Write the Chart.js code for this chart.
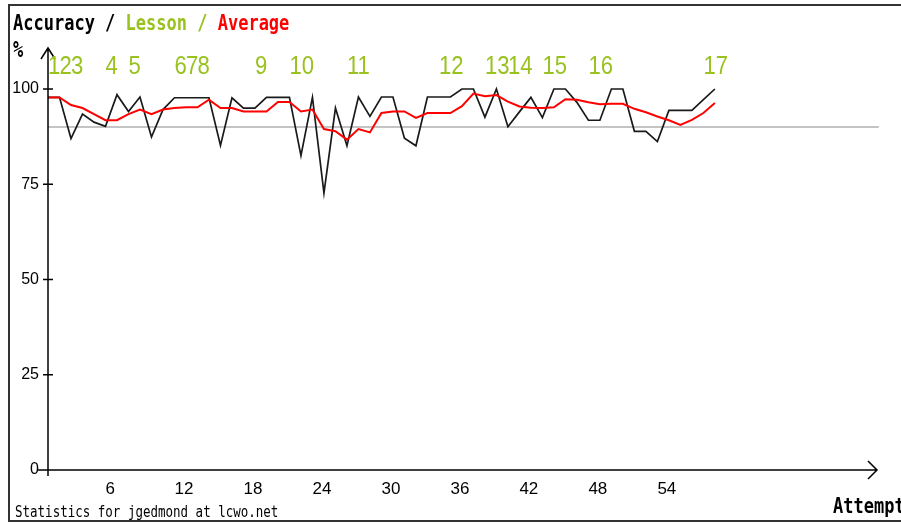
<!DOCTYPE html>
<html><head><meta charset="utf-8">
<script src="https://cdn.jsdelivr.net/npm/chart.js@4"></script>
<style>html,body{margin:0;padding:0;background:#fff}#wrap{width:901px;height:523px;position:relative}</style>
</head><body><div id="wrap"><canvas id="c" width="901" height="523"></canvas></div>
<script>
const attempts = [1,2,3,4,5,6,7,8,9,10,11,12,13,14,15,16,17,18,19,20,21,22,23,24,25,26,27,28,29,30,31,32,33,34,35,36,37,38,39,40,41,42,43,44,45,46,47,48,49,50,51,52,53,54,55,56,57,58,59];
const accuracy = [97.8,97.8,87.0,93.4,91.3,90.2,98.5,94.1,97.9,87.4,94.6,97.7,97.7,97.7,97.7,85.2,97.7,95.0,95.0,97.8,97.8,97.8,82.5,97.8,72.7,95.0,85.1,97.9,92.8,97.9,97.9,87.1,85.1,97.9,97.9,97.9,100,100,92.6,100,90.1,94.0,97.8,92.5,100,100,96.5,91.8,91.8,100,100,88.9,88.9,86.2,94.4,94.4,94.4,97.2,100];
const average = [97.8,97.8,95.8,95.0,93.4,91.8,91.8,93.4,94.6,93.4,94.6,95.0,95.2,95.2,97.2,95.0,95.0,94.1,94.1,94.1,96.6,96.6,94.1,94.6,89.5,88.9,86.7,89.5,88.6,93.7,94.1,94.1,92.4,93.7,93.7,93.7,95.5,98.8,98.1,98.4,96.7,95.4,95.1,95.0,95.2,97.3,97.2,96.5,96.0,96.1,96.1,94.8,93.9,92.8,91.8,90.6,91.9,93.7,96.3];
const targetLevel = 90;
const xTickValues = [6,12,18,24,30,36,42,48,54];
const yTickValues = [0,25,50,75,100];
const lessonStarts = [1,2,3,6,8,12,13,14,19,22,27,35,39,41,44,48,58];
const lessonNames = ['1','2','3','4','5','6','7','8','9','10','11','12','13','14','15','16','17'];
const titleParts = [['Accuracy / ','#000000'],['Lesson / ','#99c21f'],['Average','#ff0000']];
const footerText = 'Statistics for jgedmond at lcwo.net';
const xAxisTitle = 'Attempt';
const yAxisTitle = '%';

const X_MIN = 1, X_MAX = 73.1, X_TARGET_END = 73.26;
const SANS = "'Liberation Sans',Arial,sans-serif";
const MONO = "'DejaVu Sans Mono','Liberation Mono',monospace";
const GREEN = '#99c21f';

const decor = {
  id: 'decor',
  afterDraw(chart) {
    const ctx = chart.ctx;
    const xs = chart.scales.x, ys = chart.scales.y;
    const ca = chart.chartArea;
    ctx.save();
    // frame
    ctx.strokeStyle = '#333'; ctx.lineWidth = 2;
    ctx.beginPath();
    ctx.moveTo(901, 5); ctx.lineTo(9, 5); ctx.lineTo(9, 521); ctx.lineTo(901, 521);
    ctx.stroke();
    // axes
    ctx.strokeStyle = '#000'; ctx.lineWidth = 1.5;
    const x0 = ca.left, y0 = ys.getPixelForValue(0);
    ctx.beginPath();
    ctx.moveTo(x0, 48); ctx.lineTo(x0, y0 + 6);
    ctx.moveTo(x0 - 7, 59); ctx.lineTo(x0, 48); ctx.lineTo(x0 + 7, 59);
    ctx.moveTo(38, y0); ctx.lineTo(877, y0);
    ctx.moveTo(868, y0 - 9); ctx.lineTo(877, y0); ctx.lineTo(868, y0 + 9);
    yTickValues.forEach(v => { const py = ys.getPixelForValue(v); ctx.moveTo(x0 - 5, py); ctx.lineTo(x0 + 5, py); });
    ctx.stroke();
    // lesson labels
    ctx.fillStyle = GREEN; ctx.font = '26px ' + SANS; ctx.textAlign = 'left'; ctx.textBaseline = 'alphabetic';
    lessonStarts.forEach((a, i) => {
      ctx.save(); ctx.translate(xs.getPixelForValue(a), 74); ctx.scale(0.85, 1);
      ctx.fillText(lessonNames[i], 0, 0); ctx.restore();
    });
    // title
    ctx.font = 'bold 17px ' + MONO;
    ctx.save(); ctx.translate(13, 30); ctx.scale(1, 1.2);
    let tx = 0;
    titleParts.forEach(([t, c]) => { ctx.fillStyle = c; ctx.fillText(t, tx, 0); tx += ctx.measureText(t).width; });
    ctx.restore();
    ctx.fillStyle = '#000';
    ctx.save(); ctx.translate(13, 57); ctx.scale(1, 1.3); ctx.fillText(yAxisTitle, 0, 0); ctx.restore();
    ctx.save(); ctx.translate(833, 513); ctx.scale(1, 1.2); ctx.fillText(xAxisTitle, 0, 0); ctx.restore();
    ctx.font = '12.5px ' + MONO;
    ctx.save(); ctx.translate(15, 517); ctx.scale(1, 1.2); ctx.fillText(footerText, 0, 0); ctx.restore();
    ctx.restore();
  }
};

new Chart(document.getElementById('c'), {
  type: 'line',
  data: {
    datasets: [
      { label: 'Average', data: attempts.map((a, i) => ({x: a, y: average[i]})), borderColor: '#ff0000', borderWidth: 2, order: 1 },
      { label: 'Accuracy', data: attempts.map((a, i) => ({x: a, y: accuracy[i]})), borderColor: '#1a1a1a', borderWidth: 1.7, order: 2 },
      { label: 'Target', data: [{x: X_MIN, y: targetLevel}, {x: X_TARGET_END, y: targetLevel}], borderColor: '#c4c4c4', borderWidth: 2, order: 3 }
    ]
  },
  options: {
    responsive: false, animation: false, devicePixelRatio: 1,
    layout: { padding: { top: 89, right: 24, left: 0, bottom: 0 } },
    elements: { point: { radius: 0 }, line: { tension: 0 } },
    datasets: { line: { clip: false } },
    plugins: { legend: { display: false }, title: { display: false }, tooltip: { enabled: false } },
    scales: {
      x: {
        type: 'linear', min: X_MIN, max: X_MAX,
        afterBuildTicks: s => { s.ticks = xTickValues.map(v => ({value: v})); },
        afterFit: s => { s.height = 53; },
        grid: { display: false, drawTicks: false }, border: { display: false },
        ticks: { autoSkip: false, maxRotation: 0, align: 'start', padding: 9, color: '#000', font: { family: SANS, size: 17 } }
      },
      y: {
        min: 0, max: 100,
        afterBuildTicks: s => { s.ticks = yTickValues.map(v => ({value: v})); },
        afterFit: s => { s.width = 48; },
        grid: { display: false, drawTicks: false }, border: { display: false },
        ticks: { padding: 9, color: '#000', font: { family: SANS, size: 16 } }
      }
    }
  },
  plugins: [decor]
});
</script></body></html>
